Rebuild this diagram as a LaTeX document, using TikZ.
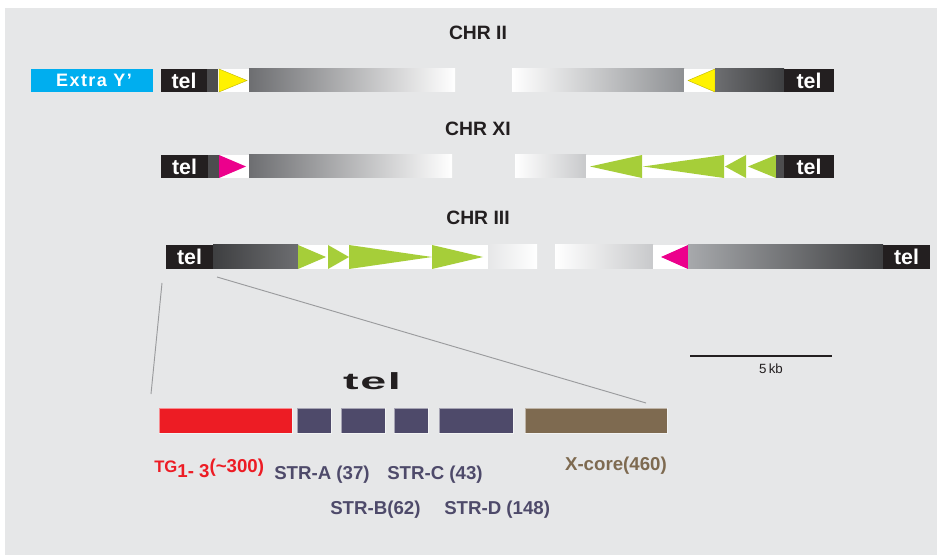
\documentclass[tikz,border=0pt]{standalone}
\usepackage{fontspec}
\setmainfont{Liberation Sans}
\usepackage{graphicx}
\definecolor{bgc}{HTML}{E6E7E8}
\definecolor{telc}{HTML}{231F20}
\definecolor{stripc}{HTML}{4D4D4F}
\definecolor{gradc}{HTML}{6D6E71}
\definecolor{midg}{HTML}{8E9093}
\definecolor{lightg}{HTML}{C8C9CB}
\definecolor{paleg}{HTML}{A7A9AC}
\definecolor{darkc}{HTML}{3E3F41}
\definecolor{cyanc}{HTML}{00AEEF}
\definecolor{yellowc}{HTML}{FFF200}
\definecolor{magc}{HTML}{EC008C}
\definecolor{greenc}{HTML}{A6CE39}
\definecolor{redc}{HTML}{ED1C24}
\definecolor{navyc}{HTML}{4E4A6A}
\definecolor{brownc}{HTML}{7E6A50}
\definecolor{linec}{HTML}{9A9B9D}
\tikzset{
  title/.style={font=\bfseries\fontsize{14.5}{14.5}\selectfont, text=telc, inner sep=0pt},
  tellab/.style={font=\bfseries\fontsize{16}{16}\selectfont, text=white, inner sep=0pt},
  extralab/.style={font=\bfseries\fontsize{13.5}{13.5}\selectfont\addfontfeature{LetterSpace=8}, text=white, inner sep=0pt},
  seglab/.style={font=\bfseries\fontsize{14}{14}\selectfont, inner sep=0pt},
  zoomline/.style={draw=linec, line width=0.7pt},
  segbox/.style={draw=white, draw opacity=0.5, line width=0.5pt},
  ytri/.style={fill=yellowc, draw=yellowc!75!black, line width=0.3pt},
}
\begin{document}
\begin{tikzpicture}[x=0.75pt,y=-0.75pt]
\useasboundingbox (0,0) rectangle (937,555);
\fill[bgc] (5,8) rectangle (937,555);

% titles
\node[title] (chr2) at (478,33) {CHR II};
\node[title] (chr11) at (478,129) {CHR XI};
\node[title] (chr3) at (478,218) {CHR III};

% ---- CHR II ----
\fill[cyanc] (31,69) rectangle (153,92);
\node[extralab] (extra) at (94,80.5) {Extra Y’};
\fill[telc] (161,69) rectangle (207,92);
\node[tellab] (t2l) at (184,80.5) {tel};
\fill[stripc] (207,69) rectangle (218,92);
\fill[white] (218,69) rectangle (249,92);
\filldraw[ytri] (219,69) -- (247,80.5) -- (219,92) -- cycle;
\shade[left color=gradc, right color=white] (249,69) rectangle (455,92);
\shade[left color=white, right color=midg] (512,69) rectangle (684,92);
\fill[white] (684,69) rectangle (715,92);
\filldraw[ytri] (715,69) -- (688,80.5) -- (715,92) -- cycle;
\shade[left color=gradc, right color=darkc] (715,69) rectangle (784,92);
\fill[telc] (784,69) rectangle (834,92);
\node[tellab] (t2r) at (809,80.5) {tel};

% ---- CHR XI ----
\fill[telc] (161,155) rectangle (208,178);
\node[tellab] (t11l) at (184.5,166.5) {tel};
\fill[stripc] (208,155) rectangle (219,178);
\fill[white] (219,155) rectangle (249,178);
\fill[magc] (219,155) -- (246,166.5) -- (219,178) -- cycle;
\shade[left color=gradc, right color=white] (249,155) rectangle (452,178);
\shade[left color=white, right color=lightg] (515,155) rectangle (586,178);
\fill[white] (586,155) rectangle (776,178);
\fill[greenc] (642,155) -- (590,166.5) -- (642,178) -- cycle;
\fill[greenc] (724,155) -- (643,166.5) -- (724,178) -- cycle;
\fill[greenc] (746,155) -- (725,166.5) -- (746,178) -- cycle;
\fill[greenc] (776,155) -- (748,166.5) -- (776,178) -- cycle;
\fill[stripc] (776,155) rectangle (784,178);
\fill[telc] (784,155) rectangle (834,178);
\node[tellab] (t11r) at (809,166.5) {tel};

% ---- CHR III ----
\fill[telc] (166,245) rectangle (213,269);
\node[tellab] (t3l) at (189.5,257) {tel};
\shade[left color=darkc, right color=gradc] (213,245) rectangle (298,269);
\fill[white] (298,245) rectangle (488,269);
\fill[greenc] (298,245) -- (326,257) -- (298,269) -- cycle;
\fill[greenc] (328,245) -- (349,257) -- (328,269) -- cycle;
\fill[greenc] (349,245) -- (432,257) -- (349,269) -- cycle;
\fill[greenc] (432,245) -- (483,257) -- (432,269) -- cycle;
\shade[left color=bgc, right color=white] (488,245) rectangle (537,269);
\shade[left color=white, right color=lightg] (555,245) rectangle (653,269);
\fill[white] (653,245) rectangle (688,269);
\fill[magc] (688,245) -- (661,257) -- (688,269) -- cycle;
\shade[left color=paleg, right color=darkc] (688,245) rectangle (883,269);
\fill[telc] (883,245) rectangle (930,269);
\node[tellab] (t3r) at (906.5,257) {tel};

% scale bar
\coordinate (sb1) at (690,356);
\coordinate (sb2) at (832,356);
\draw[telc, line width=2.2pt] (sb1) -- (sb2);
\node[font=\fontsize{10}{10}\selectfont, text=telc, inner sep=0pt] (kb) at (771,369) {5\,kb};

% zoom lines
\coordinate (za) at (162,283);
\coordinate (zb) at (151,394);
\coordinate (zc) at (217,277);
\coordinate (zd) at (646,403);
\draw[zoomline] (za) -- (zb);
\draw[zoomline] (zc) -- (zd);

% zoomed telomere
\node[inner sep=0pt, text=telc] (tellarge) at (372,381) {\scalebox{2.0}[1.0]{\bfseries\fontsize{17.5}{17.5}\selectfont t\kern0.6pt e\kern0.6pt l}};
\filldraw[segbox, fill=redc] (159,408) rectangle (292,433);
\filldraw[segbox, fill=navyc] (297,408) rectangle (331,433);
\filldraw[segbox, fill=navyc] (341,408) rectangle (385,433);
\filldraw[segbox, fill=navyc] (394,408) rectangle (428,433);
\filldraw[segbox, fill=navyc] (439,408) rectangle (513,433);
\filldraw[segbox, fill=brownc] (525,408) rectangle (667,433);

% labels
\node[seglab, text=redc, anchor=base west] (tg) at (154,472) {{\fontsize{12.5}{12.5}\selectfont TG}\raisebox{-4pt}{1- 3}(\textasciitilde300)};
\node[seglab, text=navyc, anchor=base west] (stra) at (274,479) {STR-A (37)};
\node[seglab, text=navyc, anchor=base west] (strc) at (387,479) {STR-C (43)};
\node[seglab, text=brownc, anchor=base east] (xcore) at (667,470) {X-core(460)};
\node[seglab, text=navyc, anchor=base west] (strb) at (330,514) {STR-B(62)};
\node[seglab, text=navyc, anchor=base west] (strd) at (444,514) {STR-D (148)};
\end{tikzpicture}
\end{document}
